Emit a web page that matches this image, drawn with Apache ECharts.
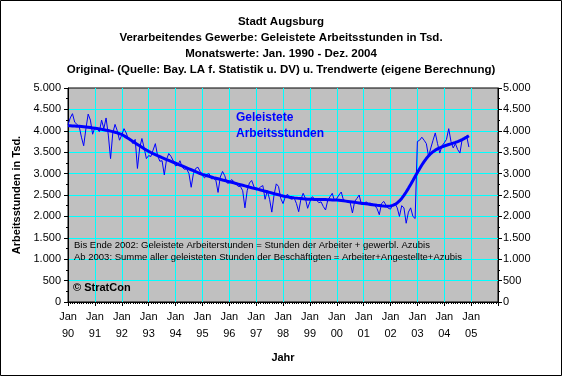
<!DOCTYPE html>
<html><head><meta charset="utf-8">
<script src="https://cdn.jsdelivr.net/npm/echarts@6/dist/echarts.min.js"></script>
<style>html,body{margin:0;padding:0;background:#fff}#c{width:562px;height:376px}</style>
</head><body><div id="c"></div>
<script>
const titleLines = [
  'Stadt Augsburg',
  'Verarbeitendes Gewerbe: Geleistete Arbeitsstunden in Tsd.',
  'Monatswerte: Jan. 1990 - Dez. 2004',
  'Original- (Quelle: Bay. LA f. Statistik u. DV) u. Trendwerte (eigene Berechnung)'
];
const tickYears = ['90','91','92','93','94','95','96','97','98','99','00','01','02','03','04','05'];
const yAxisName = 'Arbeitsstunden in Tsd.';
const xAxisName = 'Jahr';
const seriesLabel = ['Geleistete', 'Arbeitsstunden'];
const noteLines = [
  'Bis Ende 2002: Geleistete Arbeiterstunden = Stunden der Arbeiter + gewerbl. Azubis',
  'Ab 2003: Summe aller geleisteten Stunden der Beschäftigten = Arbeiter+Angestellte+Azubis'
];
const copyright = '© StratCon';

// Monthly values Jan 1990 - Dec 2004 (Tsd. Stunden)
const originalValues = [
  4140,4300,4400,4200,4150,4100,3850,3650,4050,4390,4250,3920,
  4080,4050,3980,4250,4050,4300,3900,3350,3950,4150,4000,3780,
  3900,4050,3950,3800,3780,3700,3800,3120,3600,3820,3600,3350,
  3420,3400,3550,3700,3420,3290,3300,2970,3330,3470,3400,3300,
  3180,3200,3300,3150,3100,3110,3000,2680,3000,3120,3150,3050,
  2950,2900,2980,3000,2880,2880,2850,2560,2920,3050,2950,2780,
  2780,2860,2820,2760,2700,2700,2600,2200,2600,2780,2840,2700,
  2620,2640,2690,2720,2400,2600,2400,2100,2500,2760,2700,2420,
  2300,2450,2520,2420,2400,2430,2300,2110,2400,2540,2420,2190,
  2340,2460,2420,2380,2320,2340,2230,2150,2380,2460,2540,2360,
  2420,2500,2570,2380,2370,2350,2320,2080,2350,2420,2500,2280,
  2280,2340,2310,2310,2290,2260,2180,2040,2300,2350,2260,2190,
  2170,2270,2300,2200,2000,2250,2200,1840,2100,2200,2000,1950,
  3750,3780,3850,3780,3700,3400,3600,3780,3950,3700,3480,3650,
  3720,3800,4050,3750,3600,3700,3560,3480,3800,3820,3880,3620
];
const trendValues = [
  4120,4118,4115,4112,4108,4104,4100,4095,4089,4082,4075,4068,
  4060,4052,4044,4035,4025,4015,4005,3993,3980,3966,3950,3932,
  3915,3885,3852,3818,3784,3750,3716,3682,3648,3615,3582,3550,
  3520,3493,3467,3442,3418,3395,3372,3350,3328,3307,3286,3265,
  3244,3222,3200,3178,3156,3134,3112,3090,3068,3046,3024,3002,
  2982,2966,2951,2936,2921,2906,2892,2878,2864,2850,2837,2824,
  2811,2797,2783,2769,2755,2741,2727,2713,2699,2685,2671,2658,
  2645,2631,2617,2603,2589,2575,2561,2547,2533,2519,2505,2491,
  2478,2467,2457,2448,2440,2433,2427,2421,2416,2411,2407,2403,
  2400,2398,2397,2396,2395,2394,2393,2392,2390,2388,2386,2384,
  2381,2376,2370,2364,2357,2350,2343,2336,2329,2322,2315,2308,
  2301,2294,2287,2280,2273,2266,2259,2253,2247,2243,2240,2240,
  2245,2258,2280,2315,2362,2420,2490,2570,2655,2745,2838,2932,
  3025,3115,3200,3280,3352,3415,3468,3512,3548,3578,3603,3625,
  3645,3663,3680,3696,3712,3728,3748,3770,3795,3822,3852,3885
];

const FONT = 'Liberation Sans, Arial, sans-serif';
const fmtThousands = v => String(v).replace(/\B(?=(\d{3})+(?!\d))/g, '.');

const chart = echarts.init(document.getElementById('c'), null, {renderer: 'canvas'});
const yAxisBase = {
  type: 'value', min: 0, max: 5000, interval: 500,
  axisLine: {show: true, lineStyle: {color: '#000', width: 1}},
  axisTick: {show: true, length: 4, lineStyle: {color: '#000'}},
  minorTick: {show: true, splitNumber: 2, length: 2, lineStyle: {color: '#000'}},
  axisLabel: {formatter: fmtThousands, color: '#000', fontSize: 11, fontFamily: FONT, margin: 7}
};
chart.setOption({
  animation: false,
  backgroundColor: '#fff',
  title: {
    text: titleLines.join('\n'), left: 'center', top: 9,
    textStyle: {fontSize: 11.5, fontWeight: 'bold', fontFamily: FONT, color: '#000', lineHeight: 16}
  },
  grid: {left: 68, right: 64, top: 88, bottom: 74, show: true, backgroundColor: '#C0C0C0', borderColor: '#000', borderWidth: 1},
  xAxis: {
    type: 'value', min: 0, max: 192, interval: 12,
    name: xAxisName, nameLocation: 'middle', nameGap: 50,
    nameTextStyle: {fontSize: 11, fontWeight: 'bold', fontFamily: FONT, color: '#000'},
    axisLine: {show: true, onZero: false, lineStyle: {color: '#000'}},
    axisTick: {show: true, length: 4, lineStyle: {color: '#000'}},
    minorTick: {show: true, splitNumber: 12, length: 2, lineStyle: {color: '#000'}},
    splitLine: {show: true, showMinLine: false, showMaxLine: false, lineStyle: {color: '#00FFFF', width: 1}},
    axisLabel: {
      color: '#000', fontSize: 11, fontFamily: FONT, lineHeight: 17, margin: 6,
      formatter: v => { const i = Math.round(v / 12); return i < tickYears.length ? 'Jan\n' + tickYears[i] : ''; }
    }
  },
  yAxis: [
    Object.assign({}, yAxisBase, {
      position: 'left',
      name: yAxisName, nameLocation: 'middle', nameGap: 46, nameRotate: 90,
      nameTextStyle: {fontSize: 11, fontWeight: 'bold', fontFamily: FONT, color: '#000'},
      splitLine: {show: true, showMinLine: false, showMaxLine: false, lineStyle: {color: '#00FFFF', width: 1}}
    }),
    Object.assign({}, yAxisBase, {position: 'right', splitLine: {show: false},
      axisLabel: {formatter: fmtThousands, color: '#000', fontSize: 11, fontFamily: FONT, margin: 5}})
  ],
  series: [
    {type: 'line', name: 'Original', data: originalValues.map((v, i) => [i, v]), showSymbol: false,
     lineStyle: {color: '#0000FF', width: 1}, itemStyle: {color: '#0000FF'}, z: 3},
    {type: 'line', name: 'Trend', data: trendValues.map((v, i) => [i, v]), showSymbol: false, smooth: false,
     lineStyle: {color: '#0000FF', width: 3}, itemStyle: {color: '#0000FF'}, z: 4}
  ],
  graphic: [
    {type: 'rect', shape: {x: 0.5, y: 0.5, width: 561, height: 375}, style: {fill: 'none', stroke: '#000', lineWidth: 1}, silent: true},
    {type: 'text', left: 236, top: 110, z: 10, style: {text: seriesLabel.join('\n'), fill: '#0000FF', font: 'bold 12px ' + FONT, lineHeight: 16}},
    {type: 'text', left: 74, top: 239, z: 10, style: {text: noteLines.join('\n'), fill: '#000', font: '9.5px ' + FONT, lineHeight: 12}},
    {type: 'text', left: 73, top: 282, z: 10, style: {text: copyright, fill: '#000', font: 'bold 11px ' + FONT}}
  ]
});
</script>
</body></html>
